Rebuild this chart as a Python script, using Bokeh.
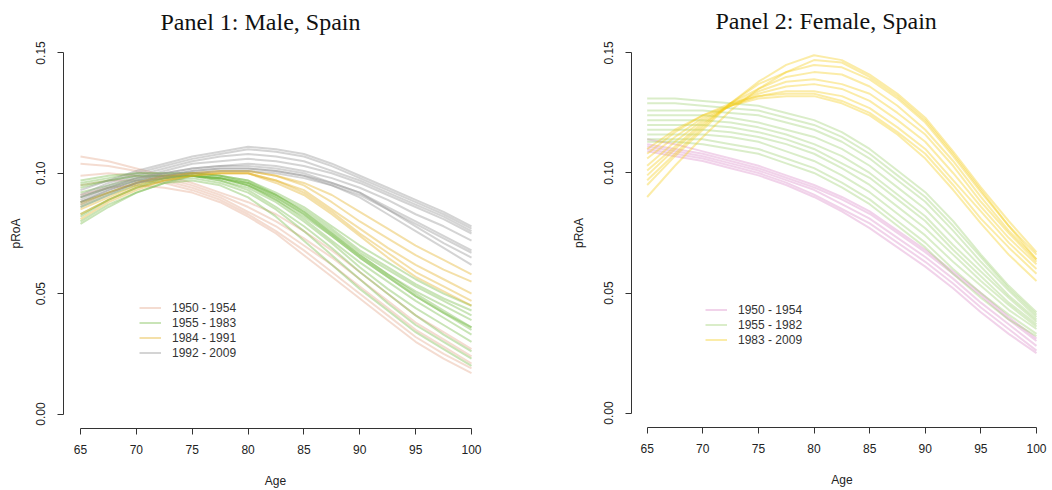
from bokeh.plotting import figure
from bokeh.layouts import row
from bokeh.models import (FixedTicker, ColumnDataSource, Legend, LegendItem,
                          NumeralTickFormatter, Range1d)
from bokeh.embed import file_html
from bokeh.resources import INLINE

# ---------------- data ----------------
ages = [65, 67.5, 70, 72.5, 75, 77.5, 80, 82.5, 85, 87.5, 90, 92.5, 95, 97.5, 100]
x_ticks = [65, 70, 75, 80, 85, 90, 95, 100]
y_ticks = [0.0, 0.05, 0.10, 0.15]

male_title = "Panel 1: Male, Spain"
female_title = "Panel 2: Female, Spain"

male_labels = ["1950 - 1954", "1955 - 1983", "1984 - 1991", "1992 - 2009"]
female_labels = ["1950 - 1954", "1955 - 1982", "1983 - 2009"]

# Male: pRoA by age, representative curves per period
male_1950_1954 = [
    [0.107, 0.105, 0.102, 0.099, 0.096, 0.092, 0.088, 0.083, 0.076, 0.068, 0.059, 0.050, 0.041, 0.034, 0.027],
    [0.104, 0.103, 0.101, 0.098, 0.095, 0.091, 0.086, 0.080, 0.073, 0.065, 0.056, 0.047, 0.038, 0.031, 0.024],
    [0.099, 0.100, 0.099, 0.097, 0.094, 0.090, 0.084, 0.078, 0.070, 0.062, 0.053, 0.044, 0.035, 0.028, 0.021],
    [0.095, 0.097, 0.097, 0.096, 0.093, 0.089, 0.083, 0.076, 0.068, 0.059, 0.050, 0.041, 0.032, 0.025, 0.019],
    [0.091, 0.094, 0.095, 0.094, 0.092, 0.088, 0.082, 0.075, 0.066, 0.057, 0.048, 0.039, 0.030, 0.023, 0.017],
]
male_1955_1983 = [
    [0.080, 0.087, 0.092, 0.096, 0.097, 0.095, 0.090, 0.082, 0.072, 0.062, 0.052, 0.043, 0.034, 0.027, 0.020],
    [0.083, 0.089, 0.094, 0.097, 0.098, 0.096, 0.092, 0.085, 0.076, 0.066, 0.056, 0.046, 0.037, 0.030, 0.023],
    [0.086, 0.091, 0.095, 0.098, 0.099, 0.097, 0.093, 0.086, 0.078, 0.069, 0.059, 0.050, 0.041, 0.033, 0.026],
    [0.088, 0.092, 0.096, 0.098, 0.099, 0.097, 0.094, 0.088, 0.080, 0.071, 0.061, 0.052, 0.044, 0.037, 0.030],
    [0.090, 0.094, 0.097, 0.098, 0.099, 0.098, 0.095, 0.089, 0.081, 0.072, 0.063, 0.055, 0.047, 0.040, 0.033],
    [0.092, 0.095, 0.098, 0.099, 0.099, 0.098, 0.095, 0.089, 0.082, 0.074, 0.065, 0.057, 0.049, 0.042, 0.036],
    [0.094, 0.097, 0.099, 0.099, 0.099, 0.098, 0.095, 0.090, 0.083, 0.075, 0.066, 0.058, 0.051, 0.045, 0.039],
    [0.095, 0.097, 0.099, 0.099, 0.099, 0.098, 0.096, 0.091, 0.084, 0.076, 0.067, 0.060, 0.053, 0.047, 0.041],
    [0.096, 0.098, 0.100, 0.100, 0.100, 0.099, 0.096, 0.091, 0.085, 0.077, 0.068, 0.061, 0.054, 0.048, 0.043],
    [0.097, 0.099, 0.100, 0.100, 0.100, 0.099, 0.097, 0.092, 0.086, 0.078, 0.070, 0.063, 0.056, 0.050, 0.045],
    [0.082, 0.089, 0.094, 0.098, 0.100, 0.099, 0.097, 0.091, 0.084, 0.075, 0.066, 0.058, 0.050, 0.043, 0.036],
    [0.079, 0.086, 0.092, 0.096, 0.099, 0.098, 0.096, 0.090, 0.083, 0.074, 0.065, 0.057, 0.049, 0.042, 0.035],
]
male_1984_1991 = [
    [0.087, 0.092, 0.096, 0.099, 0.100, 0.101, 0.101, 0.099, 0.095, 0.088, 0.080, 0.073, 0.066, 0.060, 0.055],
    [0.085, 0.090, 0.095, 0.098, 0.100, 0.100, 0.100, 0.097, 0.093, 0.085, 0.077, 0.069, 0.062, 0.056, 0.050],
    [0.083, 0.089, 0.094, 0.097, 0.099, 0.100, 0.100, 0.097, 0.092, 0.084, 0.075, 0.067, 0.059, 0.053, 0.047],
    [0.088, 0.092, 0.096, 0.099, 0.100, 0.101, 0.101, 0.099, 0.096, 0.091, 0.084, 0.077, 0.070, 0.064, 0.058],
    [0.081, 0.088, 0.093, 0.097, 0.099, 0.100, 0.100, 0.096, 0.091, 0.083, 0.074, 0.065, 0.057, 0.051, 0.045],
]
male_1992_2009 = [
    [0.093, 0.097, 0.101, 0.104, 0.107, 0.109, 0.111, 0.110, 0.108, 0.104, 0.099, 0.094, 0.089, 0.084, 0.078],
    [0.091, 0.096, 0.100, 0.103, 0.106, 0.108, 0.110, 0.109, 0.107, 0.103, 0.098, 0.093, 0.088, 0.083, 0.077],
    [0.090, 0.095, 0.099, 0.102, 0.105, 0.107, 0.108, 0.107, 0.105, 0.101, 0.097, 0.092, 0.087, 0.082, 0.076],
    [0.089, 0.094, 0.098, 0.101, 0.104, 0.105, 0.106, 0.105, 0.103, 0.100, 0.096, 0.091, 0.086, 0.081, 0.075],
    [0.088, 0.093, 0.097, 0.100, 0.102, 0.103, 0.104, 0.103, 0.101, 0.098, 0.094, 0.089, 0.083, 0.078, 0.072],
    [0.087, 0.092, 0.096, 0.099, 0.101, 0.102, 0.102, 0.101, 0.099, 0.096, 0.092, 0.086, 0.080, 0.074, 0.068],
    [0.086, 0.091, 0.096, 0.098, 0.100, 0.101, 0.101, 0.100, 0.098, 0.095, 0.091, 0.085, 0.079, 0.073, 0.067],
    [0.088, 0.093, 0.097, 0.099, 0.101, 0.102, 0.102, 0.101, 0.099, 0.095, 0.090, 0.083, 0.076, 0.069, 0.062],
    [0.090, 0.094, 0.098, 0.100, 0.102, 0.103, 0.103, 0.102, 0.100, 0.096, 0.092, 0.085, 0.078, 0.071, 0.065],
]

# Female
female_1950_1954 = [
    [0.112, 0.110, 0.108, 0.105, 0.102, 0.098, 0.094, 0.089, 0.083, 0.075, 0.067, 0.058, 0.049, 0.039, 0.030],
    [0.111, 0.109, 0.107, 0.104, 0.101, 0.097, 0.093, 0.087, 0.081, 0.073, 0.065, 0.056, 0.046, 0.037, 0.028],
    [0.110, 0.108, 0.106, 0.103, 0.100, 0.096, 0.091, 0.085, 0.079, 0.071, 0.063, 0.054, 0.044, 0.035, 0.026],
    [0.109, 0.107, 0.105, 0.102, 0.099, 0.095, 0.090, 0.084, 0.077, 0.069, 0.061, 0.052, 0.042, 0.033, 0.025],
    [0.114, 0.112, 0.109, 0.106, 0.103, 0.099, 0.095, 0.090, 0.084, 0.076, 0.068, 0.059, 0.050, 0.040, 0.031],
]
female_1955_1982 = [
    [0.113, 0.113, 0.112, 0.110, 0.108, 0.104, 0.100, 0.094, 0.087, 0.078, 0.069, 0.058, 0.048, 0.039, 0.032],
    [0.114, 0.114, 0.114, 0.112, 0.110, 0.106, 0.102, 0.096, 0.089, 0.080, 0.071, 0.060, 0.050, 0.041, 0.033],
    [0.116, 0.116, 0.116, 0.115, 0.113, 0.109, 0.105, 0.099, 0.092, 0.083, 0.074, 0.063, 0.053, 0.043, 0.035],
    [0.118, 0.118, 0.118, 0.117, 0.115, 0.112, 0.108, 0.102, 0.095, 0.086, 0.077, 0.066, 0.055, 0.045, 0.036],
    [0.120, 0.120, 0.120, 0.119, 0.117, 0.114, 0.110, 0.104, 0.098, 0.089, 0.080, 0.068, 0.057, 0.046, 0.037],
    [0.122, 0.122, 0.122, 0.121, 0.119, 0.116, 0.112, 0.107, 0.100, 0.091, 0.082, 0.070, 0.059, 0.048, 0.038],
    [0.124, 0.124, 0.124, 0.123, 0.121, 0.118, 0.115, 0.110, 0.103, 0.094, 0.085, 0.073, 0.061, 0.049, 0.039],
    [0.126, 0.126, 0.126, 0.125, 0.124, 0.121, 0.118, 0.113, 0.106, 0.097, 0.088, 0.076, 0.063, 0.051, 0.040],
    [0.129, 0.129, 0.128, 0.127, 0.126, 0.123, 0.120, 0.115, 0.108, 0.099, 0.090, 0.078, 0.065, 0.052, 0.041],
    [0.131, 0.131, 0.130, 0.129, 0.128, 0.125, 0.122, 0.117, 0.110, 0.101, 0.092, 0.080, 0.066, 0.053, 0.042],
]
female_1983_2009 = [
    [0.110, 0.118, 0.124, 0.128, 0.131, 0.132, 0.132, 0.129, 0.124, 0.116, 0.106, 0.093, 0.079, 0.066, 0.055],
    [0.108, 0.117, 0.124, 0.129, 0.132, 0.133, 0.133, 0.130, 0.125, 0.117, 0.108, 0.095, 0.081, 0.069, 0.058],
    [0.106, 0.115, 0.123, 0.128, 0.132, 0.134, 0.134, 0.132, 0.127, 0.119, 0.110, 0.097, 0.084, 0.071, 0.060],
    [0.103, 0.113, 0.122, 0.128, 0.133, 0.136, 0.137, 0.135, 0.130, 0.122, 0.113, 0.100, 0.086, 0.073, 0.062],
    [0.101, 0.111, 0.121, 0.128, 0.134, 0.138, 0.139, 0.137, 0.133, 0.125, 0.116, 0.103, 0.088, 0.075, 0.063],
    [0.099, 0.110, 0.120, 0.129, 0.135, 0.140, 0.142, 0.141, 0.136, 0.128, 0.118, 0.105, 0.090, 0.076, 0.064],
    [0.097, 0.108, 0.119, 0.129, 0.137, 0.142, 0.145, 0.144, 0.139, 0.131, 0.121, 0.107, 0.092, 0.078, 0.066],
    [0.090, 0.103, 0.115, 0.126, 0.135, 0.142, 0.147, 0.146, 0.140, 0.132, 0.122, 0.108, 0.093, 0.078, 0.064],
    [0.095, 0.107, 0.118, 0.129, 0.138, 0.145, 0.149, 0.147, 0.141, 0.133, 0.123, 0.109, 0.094, 0.080, 0.067],
]

male_groups = [male_1950_1954, male_1955_1983, male_1984_1991, male_1992_2009]
female_groups = [female_1950_1954, female_1955_1982, female_1983_2009]

male_colors = ["#E3A285", "#72B843", "#E2AE1C", "#8E8E8E"]
female_colors = ["#D98CC8", "#9ED070", "#F4CC1A"]

FONT = "Liberation Sans"


def make_panel(title, groups, labels, colors, x_range, frame_w, frame_h,
               b_left, b_right, b_top, b_bottom, title_offset, title_standoff,
               ylab_standoff, legend_xy):
    p = figure(frame_width=frame_w, frame_height=frame_h,
               x_range=Range1d(*x_range), y_range=Range1d(-0.006, 0.156),
               output_backend="svg", toolbar_location=None,
               min_border_left=b_left, min_border_right=b_right,
               min_border_top=b_top, min_border_bottom=b_bottom,
               background_fill_color="white", border_fill_color="white")
    p.title.text = title
    p.title.align = "left"
    p.title.offset = title_offset
    p.title.text_font = "Liberation Serif"
    p.title.text_font_size = "24px"
    p.title.text_font_style = "normal"
    p.title.text_color = "#111111"
    p.title.standoff = title_standoff

    p.xgrid.visible = False
    p.ygrid.visible = False
    p.outline_line_color = None

    for ax in (p.xaxis[0], p.yaxis[0]):
        ax.axis_line_color = "#333333"
        ax.major_tick_line_color = "#333333"
        ax.major_tick_out = 6
        ax.major_tick_in = 0
        ax.minor_tick_out = 0
        ax.minor_tick_in = 0
        ax.major_label_text_font = FONT
        ax.major_label_text_font_size = "12px"
        ax.major_label_text_color = "#222222"
        ax.axis_label_text_font = FONT
        ax.axis_label_text_font_size = "12px"
        ax.axis_label_text_font_style = "normal"
        ax.axis_label_text_color = "#222222"

    p.xaxis.ticker = FixedTicker(ticks=x_ticks)
    p.xaxis.bounds = (65, 100)
    p.xaxis.axis_label = "Age"
    p.xaxis.major_label_standoff = 10
    p.xaxis.axis_label_standoff = 17

    p.yaxis.ticker = FixedTicker(ticks=y_ticks)
    p.yaxis.bounds = (0, 0.15)
    p.yaxis.formatter = NumeralTickFormatter(format="0.00")
    p.yaxis.major_label_orientation = "vertical"
    p.yaxis.axis_label = "pRoA"
    p.yaxis.major_label_standoff = 12
    p.yaxis.axis_label_standoff = ylab_standoff

    items = []
    for curves, label, color in zip(groups, labels, colors):
        src = ColumnDataSource(dict(xs=[ages] * len(curves), ys=curves))
        r = p.multi_line("xs", "ys", source=src, line_color=color,
                         line_alpha=0.38, line_width=2, line_join="round")
        items.append(LegendItem(label=label, renderers=[r]))

    legend = Legend(items=items, location=legend_xy,
                    border_line_color=None, background_fill_alpha=0,
                    padding=0, margin=0, spacing=0,
                    glyph_width=22, glyph_height=15, label_height=15,
                    label_standoff=11, label_text_font=FONT,
                    label_text_font_size="12px", label_text_color="#333333")
    p.add_layout(legend)
    return p


p1 = make_panel(male_title, male_groups, male_labels, male_colors,
                (63.478, 101.432), 424, 390, 63, 64, 36, 64, 97, 7, 11, (76, 68))
p2 = make_panel(female_title, female_groups, female_labels, female_colors,
                (63.59, 101.44), 421, 389, 80, 0, 38, 63, 84, 9, 16, (74, 80))

layout = row(p1, p2, spacing=0)
open("out.html", "w").write(file_html(layout, INLINE))
